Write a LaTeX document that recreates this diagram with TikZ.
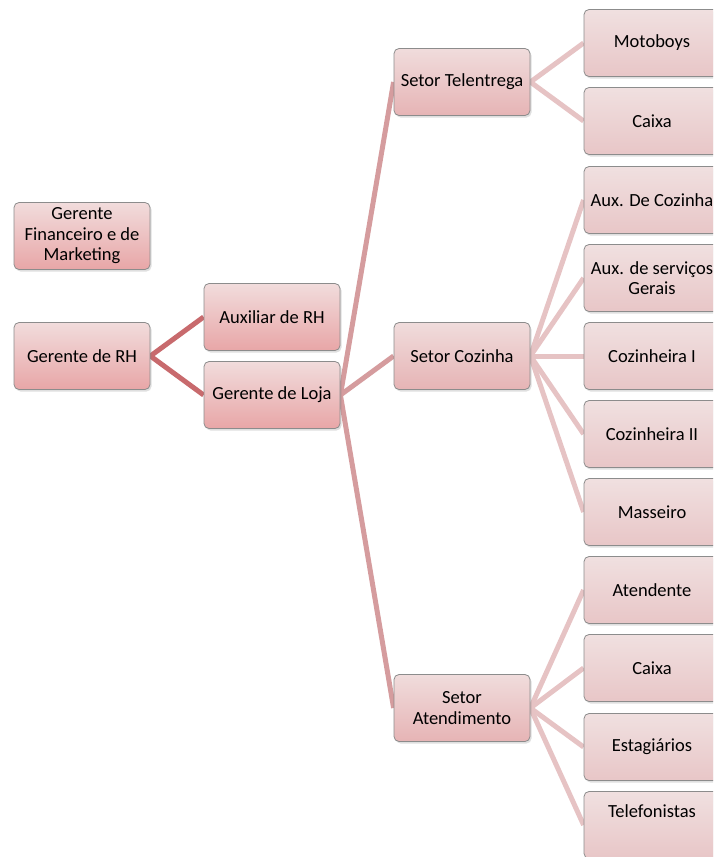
\documentclass[tikz,border=0pt]{standalone}
\usepackage{fontspec}
\setmainfont{Carlito}
\usetikzlibrary{shadows}
\pgfdeclarelayer{bg}
\pgfsetlayers{bg,main}
\definecolor{lineA}{HTML}{C86A6D}
\definecolor{lineB}{HTML}{D59C9E}
\definecolor{lineC}{HTML}{E6C3C4}
\definecolor{topA}{HTML}{F1DCDC}
\definecolor{botA}{HTML}{E8A6A7}
\definecolor{topB}{HTML}{F0DCDC}
\definecolor{botB}{HTML}{E6B4B5}
\definecolor{topC}{HTML}{F0E0E0}
\definecolor{botC}{HTML}{E8C6C7}
\tikzset{
  box/.style={rounded corners=5pt, draw=black!45, line width=0.8pt,
    minimum width=136pt, minimum height=67pt, inner sep=2pt,
    align=center, font=\fontsize{18.5}{20.5}\selectfont,
    drop shadow={opacity=0.25, shadow xshift=1.5pt, shadow yshift=-2pt}},
  lvA/.style={box, top color=topA, bottom color=botA},
  lvB/.style={box, top color=topB, bottom color=botB},
  lvC/.style={box, top color=topC, bottom color=botC},
  conA/.style={draw=lineA, line width=5pt},
  conB/.style={draw=lineB, line width=5pt},
  conC/.style={draw=lineC, line width=5pt},
}
\begin{document}
\begin{tikzpicture}[x=1pt,y=-1pt]
\useasboundingbox (0,0) rectangle (713,857);
\clip (0,0) rectangle (713,857);
% nodes
\node[lvA] (gf) at (82,236) {Gerente\\Financeiro e de\\Marketing};
\node[lvA] (rh) at (82,356) {Gerente de RH};
\node[lvA] (aux) at (272,317) {Auxiliar de RH};
\node[lvA] (loja) at (272,395) {Gerente de Loja};
\node[lvB] (tel) at (462,82) {Setor Telentrega};
\node[lvB] (coz) at (462,356) {Setor Cozinha};
\node[lvB] (ate) at (462,708) {Setor\\Atendimento};
\node[lvC] (moto) at (652,43) {Motoboys};
\node[lvC] (cx1) at (652,121) {Caixa};
\node[lvC] (auxc) at (652,200) {Aux. De Cozinha};
\node[lvC] (auxs) at (652,278) {Aux. de serviços\\Gerais};
\node[lvC] (cz1) at (652,356) {Cozinheira I};
\node[lvC] (cz2) at (652,434) {Cozinheira II};
\node[lvC] (mas) at (652,512) {Masseiro};
\node[lvC] (aten) at (652,590) {Atendente};
\node[lvC] (cx2) at (652,668) {Caixa};
\node[lvC] (est) at (652,747) {Estagiários};
\node[lvC, text depth=28pt] (tf) at (652,825) {Telefonistas};
% connectors
\begin{pgfonlayer}{bg}
\draw[conA] (rh.east) -- (aux.west);
\draw[conA] (rh.east) -- (loja.west);
\draw[conB] (loja.east) -- (tel.west);
\draw[conB] (loja.east) -- (coz.west);
\draw[conB] (loja.east) -- (ate.west);
\draw[conC] (tel.east) -- (moto.west);
\draw[conC] (tel.east) -- (cx1.west);
\draw[conC] (coz.east) -- (auxc.west);
\draw[conC] (coz.east) -- (auxs.west);
\draw[conC] (coz.east) -- (cz1.west);
\draw[conC] (coz.east) -- (cz2.west);
\draw[conC] (coz.east) -- (mas.west);
\draw[conC] (ate.east) -- (aten.west);
\draw[conC] (ate.east) -- (cx2.west);
\draw[conC] (ate.east) -- (est.west);
\draw[conC] (ate.east) -- (tf.west);
\end{pgfonlayer}
\end{tikzpicture}
\end{document}
